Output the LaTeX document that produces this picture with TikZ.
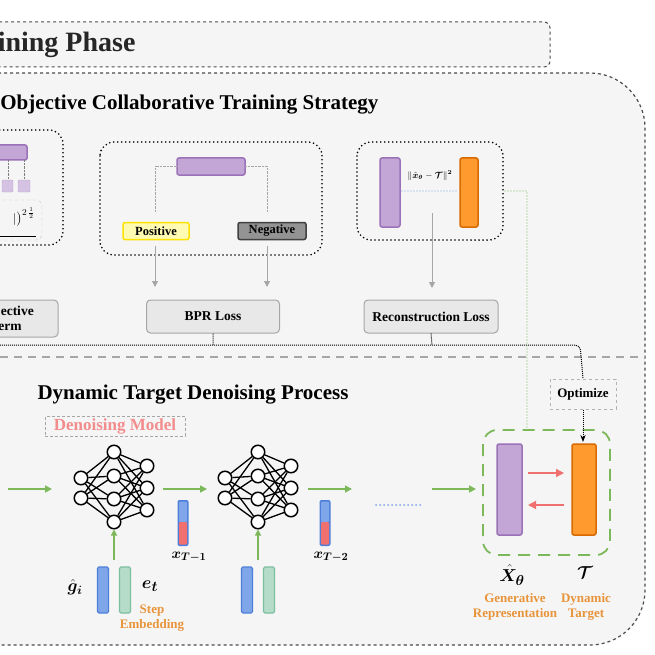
\documentclass[tikz,border=0pt]{standalone}
\usepackage{fontspec}
\setmainfont{Liberation Serif}
\usepackage{amsmath,bm}
\usetikzlibrary{arrows.meta}
\definecolor{purp}{HTML}{C3A6D6}\definecolor{purpd}{HTML}{9B72B8}
\definecolor{org}{HTML}{FF9A2E}\definecolor{orgd}{HTML}{D86A00}
\definecolor{gr}{HTML}{7DB85A}\definecolor{lbl}{HTML}{E8943A}
\definecolor{bl}{HTML}{7FA6E8}\definecolor{bld}{HTML}{4D7FDA}
\definecolor{rd}{HTML}{F07070}\definecolor{gn}{HTML}{B5DCC8}\definecolor{gnd}{HTML}{7DBFA0}
\tikzset{
 bar/.style={draw=purpd,fill=purp,line width=1.5pt,rounded corners=2pt},
 obar/.style={draw=orgd,fill=org,line width=1.5pt,rounded corners=2pt},
 loss/.style={draw=gray!70,fill=gray!18,line width=1pt,rounded corners=4pt,font=\bfseries\fontsize{13.5}{15}\selectfont},
 dotbox/.style={draw=black,line width=1.8pt,dash pattern=on 0pt off 4pt,line cap=round,rounded corners=14pt},
 garr/.style={-{Triangle[length=7pt,width=7pt]},gr,line width=1.6pt},
 grarr/.style={-{Triangle[length=6pt,width=6pt]},gray!70,line width=1pt},
 neu/.style={circle,draw=black,fill=white,line width=1.5pt,minimum size=13.5pt,inner sep=0pt},
 lab/.style={text=lbl,font=\bfseries\fontsize{13}{15}\selectfont,align=center},
}
\begin{document}
\begin{tikzpicture}[x=1pt,y=-1pt]
\useasboundingbox (0,0) rectangle (655,655);
\clip (0,0) rectangle (655,655);
\fill[white] (0,0) rectangle (655,655);
% top phase box
\draw[gray!60!black,dashed,line width=1pt,rounded corners=6pt,fill=gray!8] (-20,22) rectangle (550,67);
\node[anchor=east,font=\bfseries\fontsize{28}{30}\selectfont,text=black!85] (phase) at (139,45) {Training Phase};
% outer region
\draw[gray!60!black,dashed,line width=1.2pt,fill=gray!8,rounded corners=55pt] (-80,73) -- (645,73) -- (645,645) -- (-80,645);
\node[anchor=east,font=\bfseries\fontsize{21}{23}\selectfont] (title) at (382,105) {Multi-Objective Collaborative Training Strategy};
\draw[gray!70,line width=2pt,dash pattern=on 8pt off 6pt] (0,357) -- (645,357);
% left partial box
\draw[dotbox] (-40,130) rectangle (63,245);
\draw[bar] (-20,145) rectangle (27,160);
\draw[gray,densely dotted] (8,160)--(8,180) (24,160)--(24,180);
\draw[draw=purpd!60,fill=purp!70,rounded corners=1pt] (2,180) rectangle (13,192);
\draw[draw=purpd!60,fill=purp!70,rounded corners=1pt] (18,180) rectangle (30,192);
\draw[gray!50,dashed,rounded corners=6pt] (-30,200) rectangle (42,240);
\draw[black,line width=0.8pt] (-10,236) -- (36,236);
\node[anchor=east,font=\fontsize{13}{13}\selectfont,inner sep=1pt] (frm) at (36,217) {$|\bigr)^{2\,\frac12}$};
\draw[draw=gray!70,fill=gray!18,line width=1pt,rounded corners=4pt] (-60,300) rectangle (58,337);
\node[font=\bfseries\fontsize{13.5}{15}\selectfont,align=center] (obj) at (6,318.5) {Objective\\Term};
% BPR box
\draw[dotbox] (100,142) rectangle (322,255);
\draw[bar] (177,158) rectangle (245,175);
\draw[gray!70,densely dotted] (177,166) -| (155,212) (245,166) -| (267,212);
\node[draw=yellow!85!orange,fill=yellow!30,line width=1.5pt,rounded corners=2pt,minimum width=66pt,minimum height=17pt,inner sep=0pt,font=\bfseries\fontsize{12.5}{13}\selectfont] (pos) at (156,231) {Positive};
\node[draw=black!75,fill=gray!85,line width=1.5pt,rounded corners=2pt,minimum width=68pt,minimum height=17pt,inner sep=0pt,font=\bfseries\fontsize{12.5}{13}\selectfont] (neg) at (272,231) {Negative};
\node[loss,minimum width=133pt,minimum height=33pt] (bpr) at (213,316.5) {BPR Loss};
\draw[grarr] (155,246) -- (155,287);
\draw[grarr] (267,246) -- (267,287);
% reconstruction box
\draw[dotbox] (357,142) rectangle (503,240);
\draw[bar] (380,158) rectangle (400,227);
\draw[obar] (460,158) rectangle (478,227);
\draw[bl,line width=1.3pt,dash pattern=on 0pt off 3pt,line cap=round] (402,191) -- (458,191);
\node[font=\fontsize{9}{10}\selectfont,inner sep=1pt] (rf) at (430,176) {$\|\hat{\bm x}_{\bm\theta}-\bm{\mathcal T}\|^{\bm 2}$};
\draw[grarr] (432,213) -- (432,288);
\node[loss,minimum width=134pt,minimum height=33pt] (rec) at (431,316.5) {Reconstruction Loss};
% connectors
\node[draw=gray!60,dashed,line width=1pt,font=\bfseries\fontsize{13}{14}\selectfont,minimum width=66pt,minimum height=30pt,inner sep=0pt] (opt) at (583,394) {Optimize};
\draw[black,line width=1pt,densely dotted,rounded corners=5pt] (0,345) -- (580,345) -- (opt.north);
\draw[black,line width=1pt,densely dotted] (bpr.south) -- (213,345) (rec.south) -- (432,345);
\draw[gr,line width=1.2pt,dash pattern=on 0pt off 3pt,line cap=round] (505,191) -| (527,430);
% dynamic target block
\node[font=\bfseries\fontsize{21}{23}\selectfont,anchor=west] (dtitle) at (34,395) {Dynamic Target Denoising Process};
\node[draw=gray!70,densely dashed,text=rd!80!white,font=\bfseries\fontsize{17}{18}\selectfont,inner sep=2pt,minimum width=140pt] (dm) at (115,426) {Denoising Model};
\draw[gr,line width=1.8pt,dash pattern=on 12pt off 8pt,rounded corners=14pt] (483,430) rectangle (610,555);
\draw[bar] (497,444) rectangle (522,535);
\draw[obar] (572,444) rectangle (596,535);
\node[coordinate] (ot) at (583,442) {};
\draw[black,line width=1pt,densely dotted,-{Stealth[length=7pt]}] (opt.south) -- (ot);
\draw[-{Triangle[length=8pt,width=8pt]},rd,line width=1.4pt] (528,473) -- (564,473);
\draw[-{Triangle[length=8pt,width=8pt]},rd,line width=1.4pt] (564,505) -- (528,505);
\node[font=\fontsize{19}{19}\selectfont,inner sep=1pt] (xt) at (512,575) {$\bm{\hat X_{\theta}}$};
\node[font=\fontsize{19}{19}\selectfont,inner sep=1pt] (tt) at (585,573) {$\bm{\mathcal T}$};
\node[lab] (gl) at (515,607) {Generative\\Representation};
\node[lab] (dl) at (586,607) {Dynamic\\Target};
% neural nets
\foreach \o/\n in {0/a,144/b}{
 \begin{scope}[xshift=\o]
 \foreach \i/\y in {1/478,2/498} \node[neu] (\n1\i) at (81,\y) {};
 \foreach \i/\y in {1/452,2/476,3/499,4/522} \node[neu] (\n2\i) at (114,\y) {};
 \foreach \i/\y in {1/466,2/488,3/510} \node[neu] (\n3\i) at (147,\y) {};
 \foreach \i in {1,2}\foreach \j in {1,2,3,4} \draw[line width=1.3pt] (\n1\i)--(\n2\j);
 \foreach \i in {1,2,3,4}\foreach \j in {1,2,3} \draw[line width=1.3pt] (\n2\i)--(\n3\j);
 \node[draw=bld,fill=bl,line width=1.3pt,rounded corners=1.5pt,minimum width=11pt,minimum height=46pt,inner sep=0pt] (\n g) at (103,590) {};
 \node[draw=gnd,fill=gn,line width=1.3pt,rounded corners=1.5pt,minimum width=11pt,minimum height=46pt,inner sep=0pt] (\n e) at (125,590) {};
 \draw[-{Triangle[length=6pt,width=6pt]},gr,line width=1.2pt] (114,560) -- (\n24);
 \end{scope}}
\foreach \x/\n/\t in {183/v1/{T-1},325/v2/{T-2}}{
 \fill[bld,rounded corners=2pt] (\x-5.5,500) rectangle (\x+5.5,546);
 \fill[bl,rounded corners=1pt] (\x-4,501.5) rectangle (\x+4,522);
 \fill[rd,rounded corners=1pt] (\x-4,522) rectangle (\x+4,544.5);
 \node[font=\fontsize{15}{15}\selectfont] (\n) at (\x+6,557) {$\bm{x_{\t}}$};}
\draw[garr] (8,489) -- (52,489);
\draw[garr] (163,489) -- (207,489);
\draw[garr] (308,489) -- (352,489);
\draw[garr] (432,489) -- (476,489);
\draw[bl,line width=2pt,dash pattern=on 0pt off 4pt,line cap=round] (376,505) -- (420,505);
\node[font=\fontsize{18}{18}\selectfont] (gi) at (75,587) {$\bm{\hat g_i}$};
\node[font=\fontsize{19}{19}\selectfont,inner sep=1pt] (et) at (150,586) {$\bm{e_t}$};
\node[lab] (se) at (152,618) {Step\\Embedding};
\end{tikzpicture}
\end{document}
